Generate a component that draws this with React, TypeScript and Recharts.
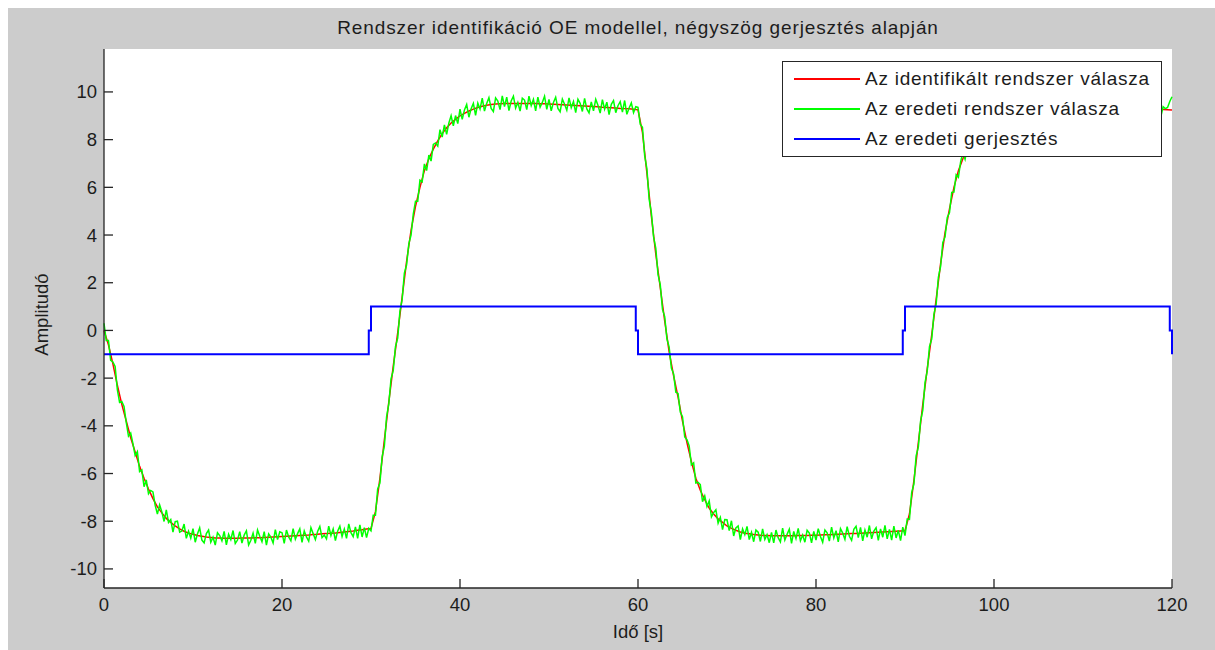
import React from 'react';
import { LineChart, Line, XAxis, YAxis, CartesianGrid, Legend, Label } from 'recharts';

const FONT = '"Liberation Sans", Arial, sans-serif';
const TEXT = '#1c1c1c';
const AXIS = '#262626';

const title = 'Rendszer identifikáció OE modellel, négyszög gerjesztés alapján';
const xLabel = 'Idő [s]';
const yLabel = 'Amplitudó';

const xTicks = [0, 20, 40, 60, 80, 100, 120];
const yTicks = [-10, -8, -6, -4, -2, 0, 2, 4, 6, 8, 10];

const seriesNames = ['Az identifikált rendszer válasza', 'Az eredeti rendszer válasza', 'Az eredeti gerjesztés'];
const seriesColors = ['#ff0000', '#00ff00', '#0000ff'];

// identified model output, one sample every 0.5 s
const idStep = 0.5;
const identified = [
  0, -0.6, -1.4, -2.3, -3.1, -3.8, -4.5, -5.1, -5.7, -6.2,
  -6.65, -7.05, -7.4, -7.65, -7.88, -8.05, -8.2, -8.32, -8.42, -8.5,
  -8.55, -8.6, -8.63, -8.66, -8.68, -8.7, -8.7, -8.71, -8.71, -8.71,
  -8.71, -8.7, -8.7, -8.7, -8.69, -8.69, -8.68, -8.67, -8.66, -8.65,
  -8.64, -8.63, -8.62, -8.61, -8.6, -8.59, -8.58, -8.56, -8.55, -8.53,
  -8.52, -8.5, -8.49, -8.47, -8.45, -8.43, -8.41, -8.38, -8.36, -8.33,
  -8.3, -7.6, -6.2, -4.6, -3.0, -1.5, -0.1, 1.4, 2.9, 4.2,
  5.2, 6.0, 6.7, 7.2, 7.6, 7.95, 8.25, 8.5, 8.7, 8.85,
  9.0, 9.1, 9.2, 9.28, 9.35, 9.4, 9.44, 9.47, 9.49, 9.5,
  9.51, 9.52, 9.52, 9.52, 9.52, 9.52, 9.51, 9.51, 9.5, 9.5,
  9.49, 9.48, 9.47, 9.46, 9.45, 9.44, 9.43, 9.42, 9.41, 9.4,
  9.39, 9.38, 9.36, 9.35, 9.34, 9.33, 9.31, 9.3, 9.29, 9.27,
  9.25, 8.3, 6.6, 4.8, 3.2, 1.8, 0.4, -0.9, -1.9, -2.8,
  -3.8, -4.7, -5.5, -6.2, -6.7, -7.1, -7.45, -7.7, -7.9, -8.05,
  -8.2, -8.3, -8.38, -8.45, -8.5, -8.53, -8.56, -8.58, -8.6, -8.6,
  -8.61, -8.61, -8.61, -8.61, -8.61, -8.61, -8.6, -8.6, -8.6, -8.59,
  -8.59, -8.58, -8.57, -8.57, -8.56, -8.55, -8.54, -8.53, -8.52, -8.51,
  -8.5, -8.49, -8.48, -8.47, -8.46, -8.45, -8.44, -8.43, -8.42, -8.41,
  -8.4, -7.7, -6.3, -4.7, -3.1, -1.6, -0.2, 1.3, 2.8, 4.1,
  5.1, 6.0, 6.7, 7.2, 7.6, 7.95, 8.25, 8.5, 8.7, 8.85,
  9.0, 9.1, 9.2, 9.28, 9.35, 9.4, 9.44, 9.47, 9.49, 9.5,
  9.51, 9.51, 9.51, 9.51, 9.5, 9.5, 9.49, 9.49, 9.48, 9.47,
  9.46, 9.45, 9.44, 9.43, 9.42, 9.41, 9.4, 9.39, 9.38, 9.37,
  9.35, 9.34, 9.33, 9.32, 9.31, 9.3, 9.29, 9.27, 9.26, 9.25,
  9.24,
];

// measured (noisy) system output, one sample every 0.25 s
const measStep = 0.25;
const measured = [
  0.3, -0.42, -0.42, -1.25, -1.32, -1.51, -2.48, -3.02, -2.98, -3.19, -3.86, -4.43, -4.3, -4.75, -5.25, -5.08, -5.92, -5.85, -6.55, -6.27,
  -6.85, -6.71, -6.77, -7.33, -7.7, -7.31, -7.61, -8.01, -7.52, -8.05, -7.93, -8.46, -8.02, -8.0, -8.46, -8.41, -8.12, -8.72, -8.42, -8.71,
  -8.31, -8.88, -8.54, -8.28, -8.79, -8.91, -8.52, -8.37, -8.88, -8.67, -9.0, -8.48, -8.6, -8.82, -8.43, -8.99, -8.55, -8.77, -8.39, -8.93,
  -8.79, -8.44, -8.92, -8.58, -8.4, -9.0, -8.8, -8.5, -8.93, -8.37, -8.63, -8.86, -8.44, -9.0, -8.53, -8.67, -8.91, -8.35, -8.77, -8.44,
  -8.48, -8.93, -8.37, -8.66, -8.82, -8.31, -8.75, -8.52, -8.32, -8.89, -8.41, -8.66, -8.84, -8.27, -8.52, -8.77, -8.43, -8.22, -8.69, -8.58,
  -8.74, -8.21, -8.6, -8.32, -8.81, -8.42, -8.21, -8.64, -8.33, -8.72, -8.11, -8.48, -8.65, -8.24, -8.72, -8.15, -8.66, -8.27, -8.69, -8.3,
  -8.4, -7.75, -7.75, -6.65, -6.4, -5.3, -4.85, -3.62, -3.08, -2.03, -1.68, -0.68, -0.32, 0.8, 1.3, 2.4, 2.75, 3.63, 4.0, 4.88,
  5.42, 5.42, 6.3, 6.23, 6.98, 6.7, 7.35, 7.1, 7.8, 7.86, 7.73, 8.42, 8.11, 8.62, 8.22, 8.7, 9.0, 8.58, 9.01, 8.67,
  9.28, 8.85, 9.24, 9.47, 8.94, 9.3, 9.52, 9.02, 9.53, 9.28, 9.74, 9.2, 9.52, 9.76, 9.31, 9.18, 9.75, 9.62, 9.26, 9.83,
  9.39, 9.78, 9.22, 9.62, 9.82, 9.32, 9.56, 9.2, 9.74, 9.66, 9.26, 9.82, 9.43, 9.69, 9.21, 9.78, 9.36, 9.56, 9.82, 9.27,
  9.69, 9.21, 9.56, 9.78, 9.31, 9.17, 9.7, 9.48, 9.23, 9.75, 9.34, 9.6, 9.13, 9.69, 9.52, 9.18, 9.73, 9.29, 9.12, 9.58,
  9.21, 9.69, 9.44, 9.11, 9.68, 9.28, 9.57, 9.05, 9.48, 9.64, 9.13, 9.42, 9.59, 9.15, 9.64, 9.06, 9.33, 9.54, 9.13, 9.38,
  9.35, 8.65, 8.52, 7.33, 6.78, 5.5, 4.94, 3.92, 3.44, 2.34, 1.92, 0.88, 0.58, -0.35, -0.7, -1.58, -1.82, -2.59, -2.64, -3.42,
  -3.62, -4.47, -4.58, -4.84, -5.64, -5.55, -6.4, -6.37, -6.46, -7.18, -6.94, -7.38, -7.15, -7.82, -7.64, -7.52, -8.08, -7.84, -8.35, -7.93,
  -7.94, -8.39, -7.98, -8.62, -8.28, -8.2, -8.77, -8.32, -8.56, -8.22, -8.77, -8.47, -8.86, -8.37, -8.46, -8.85, -8.32, -8.76, -8.56, -8.9,
  -8.47, -8.91, -8.37, -8.69, -8.87, -8.29, -8.79, -8.55, -8.33, -8.93, -8.43, -8.73, -8.3, -8.82, -8.58, -8.88, -8.38, -8.5, -8.91, -8.43,
  -8.79, -8.31, -8.64, -8.88, -8.37, -8.49, -8.83, -8.25, -8.7, -8.4, -8.87, -8.31, -8.5, -8.76, -8.23, -8.63, -8.8, -8.34, -8.21, -8.69,
  -8.26, -8.82, -8.37, -8.67, -8.18, -8.74, -8.41, -8.27, -8.8, -8.32, -8.67, -8.17, -8.74, -8.34, -8.79, -8.21, -8.7, -8.38, -8.81, -8.25,
  -8.6, -7.91, -7.92, -6.8, -6.44, -5.26, -4.88, -3.8, -3.34, -2.19, -1.7, -0.68, -0.36, 0.67, 1.1, 2.23, 2.68, 3.69, 3.92, 4.74,
  4.94, 5.79, 5.8, 6.53, 6.42, 7.07, 7.46, 7.18, 7.68, 8.08, 7.77, 8.24, 7.99, 8.58, 8.42, 8.88, 8.46, 8.88, 9.17, 8.79,
  9.22, 8.79, 9.2, 9.45, 9.02, 9.28, 8.98, 9.58, 9.23, 9.54, 9.72, 9.22, 9.5, 9.18, 9.71, 9.4, 9.79, 9.28, 9.62, 9.21,
  9.69, 9.27, 9.83, 9.41, 9.23, 9.65, 9.77, 9.2, 9.58, 9.72, 9.34, 9.79, 9.23, 9.53, 9.77, 9.28, 9.6, 9.15, 9.71, 9.4,
  9.24, 9.76, 9.37, 9.61, 9.14, 9.7, 9.49, 9.19, 9.74, 9.28, 9.61, 9.13, 9.5, 9.68, 9.21, 9.33, 9.68, 9.12, 9.51, 9.16,
  9.61, 9.23, 9.64, 9.13, 9.41, 9.56, 9.04, 9.47, 9.25, 9.62, 9.12, 9.39, 9.03, 9.5, 9.31, 8.97, 9.38, 9.3, 9.35, 9.6,
  9.8,
];

// square wave excitation (switching points)
const excTimes = [0, 29.75, 30, 59.75, 60, 89.75, 90, 119.75, 120];
const excValues = [-1, 0, 1, 0, -1, 0, 1, 0, -1];

const idData = identified.map((y, i) => ({ t: i * idStep, y }));
const measData = measured.map((y, i) => ({ t: i * measStep, y }));
const excData = excTimes.map((t, i) => ({ t, y: excValues[i] }));

const textStyle = { fontFamily: FONT, fontSize: 18.5, fill: TEXT };

const XTick = (props: any) => {
  const { x, y, payload } = props;
  return (
    <g>
      <line x1={x} x2={x} y1={y - 10} y2={y - 19} stroke={AXIS} strokeWidth={1.3} />
      <text x={x} y={y} dy="0.71em" textAnchor="middle" style={textStyle}>
        {payload.value}
      </text>
    </g>
  );
};

const YTick = (props: any) => {
  const { x, y, payload } = props;
  return (
    <g>
      <line x1={x + 7} x2={x + 16} y1={y} y2={y} stroke={AXIS} strokeWidth={1.3} />
      <text x={x} y={y} dy="0.355em" textAnchor="end" style={textStyle}>
        {payload.value}
      </text>
    </g>
  );
};

const LegendBox = () => (
  <div
    style={{
      width: 380,
      height: 96,
      boxSizing: 'border-box',
      border: `1px solid ${AXIS}`,
      background: '#fff',
      paddingTop: 2,
      fontFamily: FONT,
    }}
  >
    {seriesNames.map((name, i) => (
      <div key={name} style={{ display: 'flex', alignItems: 'center', height: 30 }}>
        <span
          style={{
            display: 'inline-block',
            marginLeft: 11,
            width: 66,
            height: 0,
            borderTop: `2px solid ${seriesColors[i]}`,
          }}
        />
        <span style={{ marginLeft: 5, fontSize: 19, letterSpacing: 0.75, color: TEXT, whiteSpace: 'nowrap' }}>
          {name}
        </span>
      </div>
    ))}
  </div>
);

export default function App() {
  return (
    <div
      style={{
        position: 'fixed',
        left: 8,
        top: 8,
        right: 0,
        bottom: 0,
        width: 1207,
        height: 642,
        background: '#cccccc',
        overflow: 'hidden',
      }}
    >
      <div
        style={{
          position: 'absolute',
          left: 96,
          top: 10,
          width: 1068,
          textAlign: 'center',
          fontFamily: FONT,
          fontSize: 19,
          lineHeight: '19px',
          letterSpacing: 0.9,
          color: TEXT,
          whiteSpace: 'nowrap',
        }}
      >
        {title}
      </div>
      <LineChart width={1207} height={642} margin={{ top: 41, right: 43, bottom: 0, left: 0 }}>
        <CartesianGrid fill="#ffffff" horizontal={false} vertical={false} />
        <XAxis
          type="number"
          dataKey="t"
          domain={[0, 120]}
          ticks={xTicks}
          height={62}
          tickSize={0}
          tickMargin={10}
          tickLine={false}
          axisLine={{ stroke: AXIS, strokeWidth: 1.3 }}
          tick={<XTick />}
          interval={0}
          allowDuplicatedCategory={false}
        >
          <Label
            content={(p: any) => (
              <text x={p.viewBox.x + p.viewBox.width / 2} y={630} textAnchor="middle" style={textStyle}>
                {xLabel}
              </text>
            )}
          />
        </XAxis>
        <YAxis
          type="number"
          domain={[-10.8, 11.8]}
          ticks={yTicks}
          width={96}
          tickSize={0}
          tickMargin={7}
          tickLine={false}
          axisLine={{ stroke: AXIS, strokeWidth: 1.3 }}
          tick={<YTick />}
          interval={0}
        >
          <Label
            content={(p: any) => {
              const cx = 33;
              const cy = p.viewBox.y + p.viewBox.height / 2 - 4;
              return (
                <text
                  x={cx}
                  y={cy}
                  dy="0.355em"
                  textAnchor="middle"
                  transform={`rotate(-90 ${cx} ${cy})`}
                  style={textStyle}
                >
                  {yLabel}
                </text>
              );
            }}
          />
        </YAxis>
        <Legend
          layout="horizontal"
          align="center"
          verticalAlign="middle"
          content={<LegendBox />}
          wrapperStyle={{ left: 774, top: 53, width: 380, height: 96 }}
        />
        <Line
          data={idData}
          dataKey="y"
          name={seriesNames[0]}
          type="linear"
          stroke={seriesColors[0]}
          strokeWidth={1.5}
          dot={false}
          activeDot={false}
          isAnimationActive={false}
        />
        <Line
          data={measData}
          dataKey="y"
          name={seriesNames[1]}
          type="linear"
          stroke={seriesColors[1]}
          strokeWidth={1.5}
          dot={false}
          activeDot={false}
          isAnimationActive={false}
        />
        <Line
          data={excData}
          dataKey="y"
          name={seriesNames[2]}
          type="stepAfter"
          stroke={seriesColors[2]}
          strokeWidth={2}
          dot={false}
          activeDot={false}
          isAnimationActive={false}
        />
      </LineChart>
    </div>
  );
}
